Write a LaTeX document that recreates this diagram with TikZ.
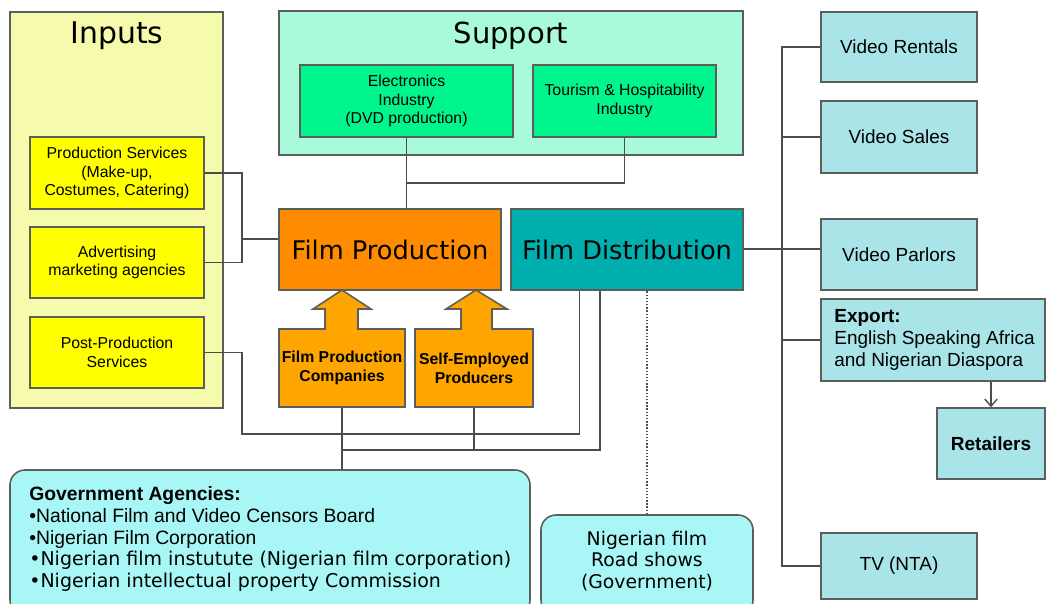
\documentclass[tikz,border=0pt]{standalone}
\usepackage{fontspec}
\setmainfont{Liberation Sans}
\newfontfamily\verdfont{DejaVu Sans}
\usepackage{tikz}
\usetikzlibrary{calc,positioning,arrows.meta}
\definecolor{inputbg}{RGB}{246,250,172}
\definecolor{inputbox}{RGB}{255,255,0}
\definecolor{supportbg}{RGB}{168,250,218}
\definecolor{supportbox}{RGB}{0,245,140}
\definecolor{prodorange}{RGB}{255,140,0}
\definecolor{arroworange}{RGB}{255,165,0}
\definecolor{distteal}{RGB}{0,174,174}
\definecolor{outletblue}{RGB}{168,228,232}
\definecolor{govcyan}{RGB}{168,246,246}
\definecolor{edgegrey}{RGB}{90,95,90}
\tikzset{
  boxsize/.style 2 args={minimum width={#1*0.02cm}, minimum height={#2*0.02cm}},
  panel/.style={draw=edgegrey, line width=0.9pt, inner sep=0pt, align=center},
  conn/.style={draw=black!70, line width=0.8pt},
  smalltxt/.style={font=\fontsize{9}{10.6}\selectfont},
  outlet/.style={panel, fill=outletblue, font=\fontsize{10.8}{12.6}\selectfont}
}
\begin{document}
\begin{tikzpicture}[x=0.02cm,y=-0.02cm]
\useasboundingbox (0,0) rectangle (1047,603);
\clip (0,0) rectangle (1047,603);
% group panels
\node[panel, fill=inputbg, boxsize={213}{396}] (inputs) at (116.5,210) {};
\node[font=\verdfont\fontsize{17}{19}\selectfont] (inputslbl) at (117,36) {Inputs};
\node[panel, fill=supportbg, boxsize={464}{144}] (support) at (511,83) {};
\node[font=\verdfont\fontsize{16.5}{19}\selectfont] (supportlbl) at (511,36) {Support};

% inputs
\node[panel, fill=inputbox, smalltxt, boxsize={174}{72}] (prodsvc) at (117,173) {Production Services\\(Make-up,\\Costumes, Catering)};
\node[panel, fill=inputbox, smalltxt, boxsize={174}{71}] (advert) at (117,262.5) {Advertising\\marketing agencies};
\node[panel, fill=inputbox, smalltxt, boxsize={174}{71}] (postprod) at (117,352.5) {Post-Production\\Services};

% support
\node[panel, fill=supportbox, smalltxt, boxsize={213}{72}] (elec) at (406.5,101) {Electronics\\Industry\\(DVD production)};
\node[panel, fill=supportbox, smalltxt, boxsize={183}{72}] (tour) at (624.5,101) {Tourism \& Hospitability\\Industry};

% core
\node[panel, fill=prodorange, font=\verdfont\fontsize{14.6}{16}\selectfont, boxsize={222}{81}] (filmprod) at (390,249.5) {Film Production};
\node[panel, fill=distteal, font=\verdfont\fontsize{14.6}{16}\selectfont, boxsize={232}{81}] (filmdist) at (627,249.5) {Film Distribution};

% producers (block arrows)
\filldraw[fill=arroworange, draw=edgegrey, line width=0.9pt]
  (279,329) -- (325,329) -- (325,309) -- (313,309) -- (342,290) -- (371,309)
  -- (358,309) -- (358,329) -- (405,329) -- (405,407) -- (279,407) -- cycle;
\filldraw[fill=arroworange, draw=edgegrey, line width=0.9pt]
  (415,329) -- (461,329) -- (461,309) -- (446,309) -- (476,290) -- (507,309)
  -- (492,309) -- (492,329) -- (533,329) -- (533,407) -- (415,407) -- cycle;
\node[inner sep=0pt, align=center, font=\bfseries\fontsize{9}{11}\selectfont, boxsize={126}{78}] (fpc) at (342,368) {Film Production\\Companies};
\node[inner sep=0pt, align=center, font=\bfseries\fontsize{9}{11}\selectfont, boxsize={118}{78}] (selfemp) at (474,368) {Self-Employed\\Producers};

% outlets
\node[outlet, boxsize={156}{70}] (rentals) at (899,47) {Video Rentals};
\node[outlet, boxsize={156}{72}] (sales) at (899,137) {Video Sales};
\node[outlet, boxsize={156}{71}] (parlors) at (899,254.5) {Video Parlors};
\node[outlet, boxsize={224}{82}] (export) at (933,340) {};
\node[align=left, anchor=west, font=\fontsize{10.8}{12.6}\selectfont, inner sep=0pt] (exportlbl) at (834,340) {\textbf{Export:}\\English Speaking Africa\\and Nigerian Diaspora};
\node[outlet, font=\bfseries\fontsize{10.8}{12.6}\selectfont, boxsize={108}{71}] (retail) at (991,443.5) {Retailers};
\node[outlet, boxsize={156}{66}] (tv) at (899,566) {TV (NTA)};

% government
\node[panel, fill=govcyan, rounded corners=0.3cm, boxsize={520}{145}] (govt) at (270,542.5) {};
\node[align=left, anchor=west, inner sep=0pt, font=\fontsize{11}{12.3}\selectfont] (govtlbl) at (29,539)
  {\textbf{Government Agencies:}\\
   •National Film and Video Censors Board\\
   •Nigerian Film Corporation\\
   {\verdfont\fontsize{10.8}{12.3}\selectfont •Nigerian film instutute (Nigerian film corporation)}\\
   {\verdfont\fontsize{10.8}{12.3}\selectfont •Nigerian intellectual property Commission}};
\node[panel, fill=govcyan, rounded corners=0.3cm, boxsize={212}{100}] (roadshow) at (647,565) {};
\node[align=center, font=\verdfont\fontsize{10.7}{12.3}\selectfont] (roadlbl) at (647,561) {Nigerian film\\Road shows\\(Government)};

% connectors
\coordinate (inbus) at (242,239);
\draw[conn] (prodsvc.east) -| (inbus) |- (advert.east);
\draw[conn] (inbus) -- (inbus -| filmprod.west);
\coordinate (supjoin) at ($(elec.south)+(0,45)$);
\draw[conn] (elec.south) -- (elec.south |- filmprod.north);
\draw[conn] (tour.south) |- (supjoin);
\coordinate (postbend) at (242,434);
\draw[conn] (postprod.east) -| (postbend) -| ($(filmdist.south west)+(69,0)$);
\coordinate (lowbus) at (600,450);
\draw[conn] (fpc.south) -- (fpc.south |- govt.north);
\draw[conn] (selfemp.south) -- (selfemp.south |- lowbus);
\draw[conn] (fpc.south |- lowbus) -- (lowbus) -- (lowbus |- filmdist.south);
\draw[conn, densely dotted] (roadshow.north) -- (roadshow.north |- filmdist.south);
\coordinate (trunk) at (782,249);
\draw[conn] (filmdist.east |- trunk) -- (trunk -| parlors.west);
\draw[conn] (rentals.west) -- (trunk |- rentals.west) |- (tv.west);
\foreach \n in {sales,export}
  \draw[conn] (\n.west) -- (trunk |- \n.west);
\draw[conn, -{Straight Barb[length=4pt,width=7pt]}] (retail.north |- export.south) -- (retail.north);
\end{tikzpicture}
\end{document}
